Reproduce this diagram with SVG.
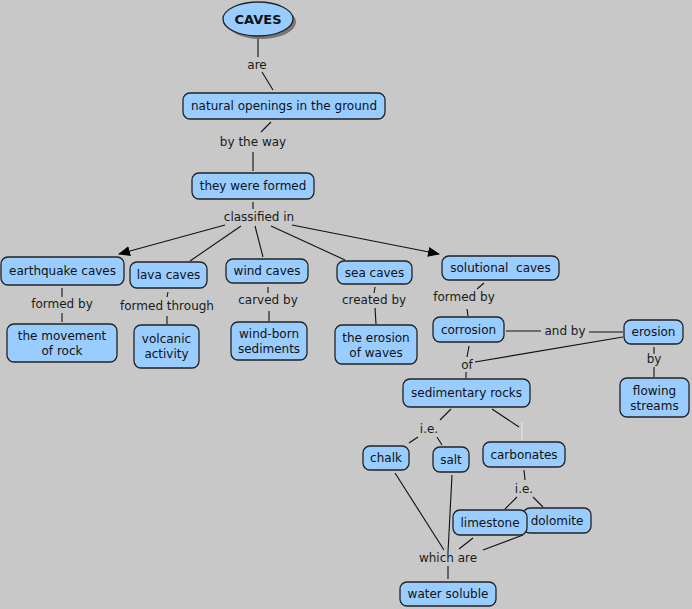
<svg xmlns="http://www.w3.org/2000/svg" width="692" height="609" viewBox="0 0 692 609">
<defs>
<marker id="arr" markerWidth="12" markerHeight="10" refX="11" refY="5" orient="auto" markerUnits="userSpaceOnUse">
<path d="M0,0 L12,5 L0,10 Z" fill="#000"/>
</marker>
<style>
.n rect{fill:#99ccff;stroke:#222;stroke-width:1.3}
text{font-family:"DejaVu Sans",Verdana,sans-serif;font-size:12px;text-anchor:middle;fill:#111}
.c line{stroke:#111;stroke-width:1.1}
.l text{fill:#1a1a1a}
</style>
</defs>
<rect width="692" height="609" fill="#c8c8c8"/>
<g class="c">
<line x1="258" y1="38" x2="258" y2="57"/>
<line x1="262" y1="72" x2="273" y2="90"/>
<line x1="271" y1="122" x2="261" y2="132"/>
<line x1="253" y1="152" x2="253" y2="171"/>
<line x1="253" y1="202" x2="253" y2="209"/>
<line x1="225" y1="225" x2="119" y2="254" marker-end="url(#arr)"/>
<line x1="241" y1="226" x2="190" y2="261"/>
<line x1="255" y1="226" x2="263" y2="257"/>
<line x1="271" y1="226" x2="345" y2="260"/>
<line x1="292" y1="225" x2="439" y2="254" marker-end="url(#arr)"/>
<line x1="62" y1="288" x2="62" y2="297"/>
<line x1="62" y1="313" x2="62" y2="322"/>
<line x1="168" y1="292" x2="167" y2="297"/>
<line x1="167" y1="316" x2="167" y2="324"/>
<line x1="268" y1="287" x2="268" y2="293"/>
<line x1="269" y1="311" x2="269" y2="321"/>
<line x1="375" y1="287" x2="374" y2="293"/>
<line x1="375" y1="308" x2="376" y2="324"/>
<line x1="484" y1="283" x2="477" y2="289"/>
<line x1="467" y1="309" x2="468" y2="316"/>
<line x1="506" y1="331" x2="541" y2="331"/>
<line x1="589" y1="332" x2="623" y2="332"/>
<line x1="623" y1="337" x2="475" y2="362"/>
<line x1="469" y1="346" x2="467" y2="357"/>
<line x1="466" y1="372" x2="466" y2="378"/>
<line x1="654" y1="347" x2="654" y2="354"/>
<line x1="654" y1="367" x2="654" y2="377"/>
<line x1="451" y1="409" x2="440" y2="420"/>
<line x1="418" y1="437" x2="409" y2="443"/>
<line x1="437" y1="437" x2="442" y2="445"/>
<line x1="492" y1="409" x2="519" y2="427"/>
<line x1="522" y1="422" x2="522" y2="440" style="stroke:#e6e6e6"/>
<line x1="524" y1="470" x2="525" y2="480"/>
<line x1="517" y1="497" x2="505" y2="509"/>
<line x1="533" y1="497" x2="543" y2="507"/>
<line x1="395" y1="473" x2="444" y2="550"/>
<line x1="452" y1="475" x2="448" y2="552"/>
<line x1="473" y1="538" x2="459" y2="549"/>
<line x1="523" y1="535" x2="483" y2="550"/>
<line x1="448" y1="566" x2="448" y2="579"/>
</g>
<g class="l">
<text x="257" y="69">are</text>
<text x="253" y="146">by the way</text>
<text x="259" y="221">classified in</text>
<text x="62" y="308">formed by</text>
<text x="167" y="310">formed through</text>
<text x="268" y="304">carved by</text>
<text x="374" y="304">created by</text>
<text x="464" y="301">formed by</text>
<text x="565" y="335">and by</text>
<text x="467" y="369">of</text>
<text x="654" y="363">by</text>
<text x="429" y="433">i.e.</text>
<text x="524" y="493">i.e.</text>
<text x="448" y="562">which are</text>
</g>
<g id="caves">
<ellipse cx="261" cy="22" rx="35" ry="17" fill="#777"/>
<ellipse cx="258" cy="19" rx="35" ry="17" fill="#99ccff" stroke="#222" stroke-width="1.3"/>
<text x="258" y="24" style="font-weight:bold;font-size:13px">CAVES</text>
</g>
<g id="natural" class="n"><rect x="183" y="93" width="202" height="26" rx="7"/><text x="284" y="110">natural openings in the ground</text></g>
<g id="formed" class="n"><rect x="192" y="173" width="122" height="26" rx="7"/><text x="253" y="190">they were formed</text></g>
<g id="earthquake" class="n"><rect x="1" y="257" width="123" height="28" rx="7"/><text x="62.5" y="275">earthquake caves</text></g>
<g id="lava" class="n"><rect x="130" y="262" width="77" height="26" rx="7"/><text x="168.5" y="279">lava caves</text></g>
<g id="wind" class="n"><rect x="226" y="259" width="82" height="24" rx="7"/><text x="267" y="275">wind caves</text></g>
<g id="sea" class="n"><rect x="337" y="261" width="75" height="23" rx="7"/><text x="374.5" y="276.5">sea caves</text></g>
<g id="solutional" class="n"><rect x="442" y="256" width="117" height="24" rx="7"/><text x="500.5" y="272" xml:space="preserve">solutional  caves</text></g>
<g id="movement" class="n"><rect x="7" y="324" width="110" height="38" rx="7"/><text x="62" y="340">the movement</text><text x="62" y="355">of rock</text></g>
<g id="volcanic" class="n"><rect x="134" y="325" width="65" height="43" rx="7"/><text x="166.5" y="343">volcanic</text><text x="166.5" y="358">activity</text></g>
<g id="windborn" class="n"><rect x="231" y="322" width="76" height="38" rx="7"/><text x="269" y="338">wind-born</text><text x="269" y="353">sediments</text></g>
<g id="waves" class="n"><rect x="335" y="325" width="82" height="39" rx="7"/><text x="376" y="342">the erosion</text><text x="376" y="357">of waves</text></g>
<g id="corrosion" class="n"><rect x="433" y="317" width="71" height="25" rx="7"/><text x="468.5" y="334">corrosion</text></g>
<g id="erosion" class="n"><rect x="624" y="320" width="59" height="24" rx="7"/><text x="653.5" y="336">erosion</text></g>
<g id="streams" class="n"><rect x="620" y="378" width="69" height="39" rx="7"/><text x="654.5" y="395">flowing</text><text x="654.5" y="410">streams</text></g>
<g id="sedimentary" class="n"><rect x="403" y="379" width="127" height="28" rx="7"/><text x="466.5" y="397">sedimentary rocks</text></g>
<g id="chalk" class="n"><rect x="363" y="446" width="46" height="24" rx="7"/><text x="386" y="462">chalk</text></g>
<g id="salt" class="n"><rect x="433" y="447" width="36" height="25" rx="7"/><text x="451" y="463.5">salt</text></g>
<g id="carbonates" class="n"><rect x="483" y="442" width="82" height="25" rx="7"/><text x="524" y="459">carbonates</text></g>
<g id="dolomite" class="n"><rect x="523" y="508" width="68" height="25" rx="7"/><text x="557" y="525">dolomite</text></g>
<g id="limestone" class="n"><rect x="453" y="510" width="74" height="25" rx="7"/><text x="490" y="527">limestone</text></g>
<g id="soluble" class="n"><rect x="400" y="582" width="96" height="24" rx="7"/><text x="448" y="598">water soluble</text></g>
</svg>
